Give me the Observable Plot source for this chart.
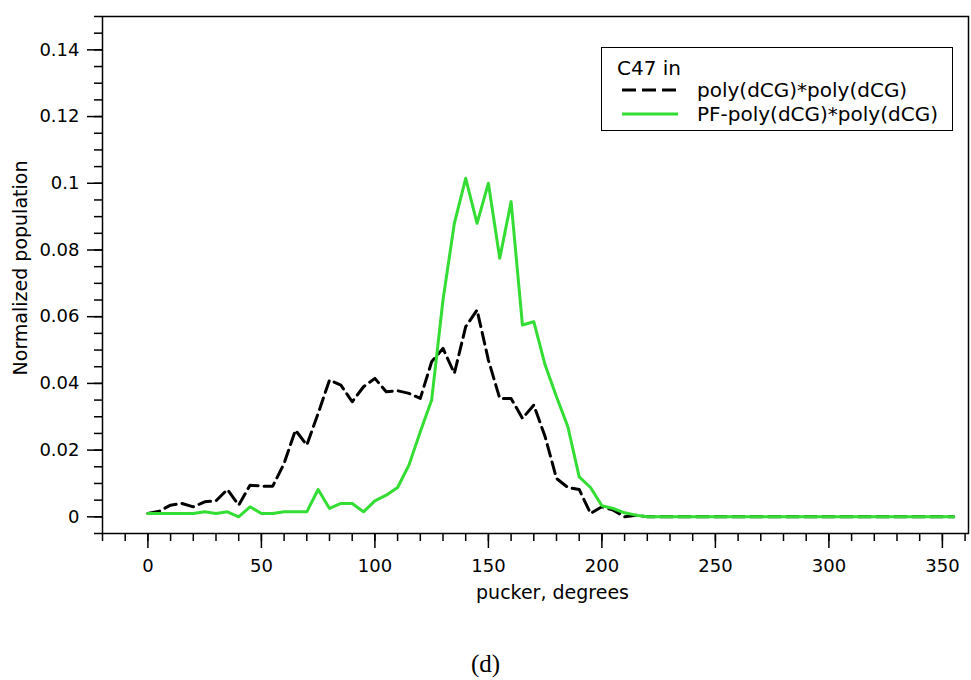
<!DOCTYPE html>
<html>
<head>
<meta charset="utf-8">
<script src="https://cdn.jsdelivr.net/npm/d3@7"></script>
<script src="https://cdn.jsdelivr.net/npm/@observablehq/plot@0.6"></script>
<style>
  body { margin: 0; background: #fff; font-family: "DejaVu Sans", sans-serif; }
  #wrap { position: relative; width: 971px; height: 680px; background: #fff; }
  #legend { position: absolute; left: 601px; top: 47px; width: 350px; height: 82px;
            border: 1.5px solid #000; background: #fff; font-size: 20px; color: #000; }
  #legend .row { position: absolute; left: 0; height: 24px; display: flex; align-items: center; white-space: nowrap; }
  #caption { position: absolute; left: 0; top: 650px; width: 971px; text-align: center;
             font-family: "Liberation Serif", serif; font-size: 25px; color: #000; }
</style>
</head>
<body>
<div id="wrap">
  <div id="chart"></div>
  <div id="legend"></div>
  <div id="caption">(d)</div>
</div>
<script>
// ---- data ----
const angles = [0,5,10,15,20,25,30,35,40,45,50,55,60,65,70,75,80,85,90,95,100,105,110,115,120,125,130,135,140,145,150,155,160,165,170,175,180,185,190,195,200,205,210,215,220,225,230,235,240,245,250,255,260,265,270,275,280,285,290,295,300,305,310,315,320,325,330,335,340,345,350,355];
const polyValues = [0.001,0.0017,0.0035,0.004,0.003,0.0045,0.0048,0.0082,0.0035,0.0095,0.0092,0.0092,0.016,0.026,0.0215,0.031,0.041,0.0395,0.0345,0.039,0.0415,0.0375,0.0378,0.037,0.0355,0.0465,0.0505,0.043,0.057,0.062,0.047,0.0355,0.0355,0.0295,0.0335,0.024,0.0115,0.0088,0.0082,0.001,0.003,0.002,0,0.0005,0,0,0,0,0,0,0,0,0,0,0,0,0,0,0,0,0,0,0,0,0,0,0,0,0,0,0,0];
const pfValues = [0.001,0.001,0.001,0.001,0.001,0.0015,0.001,0.0015,0,0.003,0.001,0.001,0.0015,0.0015,0.0015,0.0082,0.0025,0.004,0.004,0.0015,0.0048,0.0065,0.0088,0.0155,0.0255,0.035,0.065,0.088,0.1015,0.088,0.1,0.0775,0.0945,0.0575,0.0585,0.0455,0.036,0.027,0.012,0.0088,0.0033,0.0025,0.0012,0.0005,0,0,0,0,0,0,0,0,0,0,0,0,0,0,0,0,0,0,0,0,0,0,0,0,0,0,0,0];
const seriesNames = ["poly(dCG)*poly(dCG)", "PF-poly(dCG)*poly(dCG)"];
const seriesColors = ["#000000", "#33dd33"];
const legendTitle = "C47 in";
const xTicks = [0,50,100,150,200,250,300,350];
const xMinorTicks = [-20,-10,0,10,20,30,40,50,60,70,80,90,100,110,120,130,140,150,160,170,180,190,200,210,220,230,240,250,260,270,280,290,300,310,320,330,340,350,360];
const yTicks = [0,0.02,0.04,0.06,0.08,0.1,0.12,0.14];
const yTickLabels = ["0","0.02","0.04","0.06","0.08","0.1","0.12","0.14"];
const yMinorTicks = [-0.005,0,0.005,0.01,0.015,0.02,0.025,0.03,0.035,0.04,0.045,0.05,0.055,0.06,0.065,0.07,0.075,0.08,0.085,0.09,0.095,0.1,0.105,0.11,0.115,0.12,0.125,0.13,0.135,0.14,0.145,0.15];
const xLabel = "pucker, degrees";
const yLabel = "Normalized population";

const poly = angles.map((a, i) => ({a, v: polyValues[i]}));
const pf = angles.map((a, i) => ({a, v: pfValues[i]}));

const chart = Plot.plot({
  width: 971,
  height: 620,
  marginLeft: 102,
  marginRight: 3,
  marginTop: 16,
  marginBottom: 87,
  x: {domain: [-20, 361.5]},
  y: {domain: [-0.005, 0.15]},
  style: {fontFamily: "DejaVu Sans, sans-serif", fontSize: "18px", color: "#000", background: "#fff"},
  marks: [
    Plot.axisY(yMinorTicks, {tickSize: 8, tickFormat: () => "", label: null, strokeWidth: 1.5}),
    Plot.axisY(yTicks, {tickSize: 15, tickPadding: 8, tickFormat: d => yTickLabels[yTicks.indexOf(d)], label: null, strokeWidth: 1.5, fontSize: 18}),
    Plot.axisX(xMinorTicks, {tickSize: 8, tickFormat: () => "", label: null, strokeWidth: 1.5}),
    Plot.axisX(xTicks, {tickSize: 15, tickPadding: 11, label: null, strokeWidth: 1.5, fontSize: 18}),
    Plot.line(poly, {x: "a", y: "v", stroke: seriesColors[0], strokeWidth: 3, strokeDasharray: "12,6"}),
    Plot.line(pf, {x: "a", y: "v", stroke: seriesColors[1], strokeWidth: 3}),
    Plot.frame({stroke: "#000", strokeWidth: 1.5}),
    Plot.text([yLabel], {frameAnchor: "left", textAnchor: "middle", dx: -82, dy: -7, rotate: -90, fontSize: 19}),
    Plot.text([xLabel], {frameAnchor: "bottom", textAnchor: "middle", dx: 17, dy: 65, fontSize: 19})
  ]
});
document.getElementById("chart").appendChild(chart);

// legend
const legend = document.getElementById("legend");
const title = document.createElement("div");
title.className = "row";
title.style.left = "15px";
title.style.top = "8px";
title.textContent = legendTitle;
legend.appendChild(title);
seriesNames.forEach((name, i) => {
  const row = document.createElement("div");
  row.className = "row";
  row.style.left = "20px";
  row.style.top = (30 + i * 24) + "px";
  const ns = "http://www.w3.org/2000/svg";
  const svg = document.createElementNS(ns, "svg");
  svg.setAttribute("width", "56");
  svg.setAttribute("height", "10");
  const ln = document.createElementNS(ns, "line");
  ln.setAttribute("x1", "0"); ln.setAttribute("x2", "56");
  ln.setAttribute("y1", "5"); ln.setAttribute("y2", "5");
  ln.setAttribute("stroke", seriesColors[i]);
  ln.setAttribute("stroke-width", "3");
  if (i === 0) ln.setAttribute("stroke-dasharray", "14,6");
  svg.appendChild(ln);
  row.appendChild(svg);
  const t = document.createElement("span");
  t.style.marginLeft = "19px";
  t.textContent = name;
  row.appendChild(t);
  legend.appendChild(row);
});
</script>
</body>
</html>
